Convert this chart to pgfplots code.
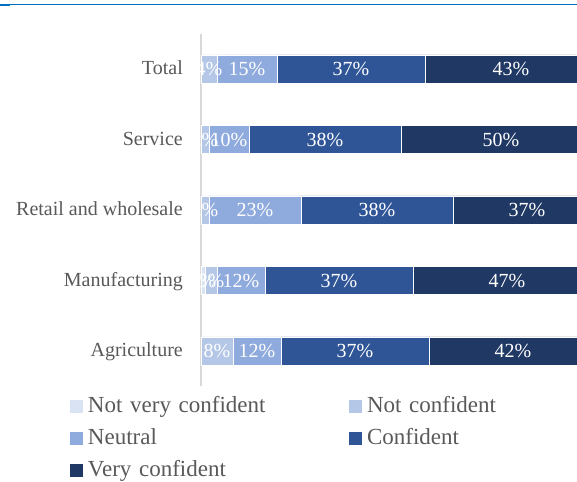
\documentclass[border=0pt]{standalone}
\usepackage{pgfplots}
\pgfplotsset{compat=1.18}
\usepackage{pgfplotstable}
\usepackage{fontspec}
\setmainfont{Liberation Serif}
\definecolor{c1}{HTML}{DAE3F3}
\definecolor{c2}{HTML}{B4C7E7}
\definecolor{c3}{HTML}{8FAADC}
\definecolor{c4}{HTML}{2F5597}
\definecolor{c5}{HTML}{203864}
\definecolor{topblue}{HTML}{0070C0}
\definecolor{axisgray}{HTML}{D9D9D9}
\definecolor{labelgray}{HTML}{595959}
% pos: 0 Agriculture, 1 Manufacturing, 2 Retail and wholesale, 3 Service, 4 Total
\pgfplotstableread{
pos nv nc ne co vc
0 0 8 12 37 42
1 1 3 12 37 47
2 0 2 23 38 37
3 0 2 10 38 50
4 0 4 15 37 43
}\datatable
\begin{document}
\begin{tikzpicture}
\useasboundingbox (0pt,0pt) rectangle (577pt,481pt);
\clip (0pt,0pt) rectangle (577pt,481pt);
\fill[white] (0pt,0pt) rectangle (577pt,481pt);
\draw[color=topblue, line width=1.3pt] (0pt,476.5pt) -- (577pt,476.5pt);
\draw[color=topblue, line width=2pt] (0pt,475.5pt) -- (10pt,475.5pt);
\begin{axis}[
  at={(201pt,94.75pt)}, anchor=south west,
  x=4pt, y=70.5pt,
  xmin=0, xmax=100, ymin=-0.5, ymax=4.5,
  xbar stacked, bar width=28pt,
  axis x line=none,
  axis y line*=left,
  y axis line style={color=axisgray, line width=1.5pt, -},
  ytick={0,1,2,3,4},
  yticklabels={Agriculture, Manufacturing, Retail and wholesale, Service, Total},
  major tick length=0pt,
  xtick=\empty,
  yticklabel style={font=\fontsize{20}{24}\selectfont, text=labelgray, inner sep=0pt, xshift=-18pt, text height=15pt, text depth=3pt},
  point meta=explicit symbolic,
  nodes near coords={\ifnum\pgfplotspointmeta>0 \pgfplotspointmeta\%\fi},
  every node near coord/.append style={anchor=center, text=white, font=\fontsize{20}{24}\selectfont, inner sep=0pt, text height=15pt, text depth=1pt},
  legend columns=2,
  legend cell align=left,
  legend image code/.code={\fill[#1, draw=none] (0pt,-6.5pt) rectangle (13pt,6.5pt);},
  legend style={at={(-0.3275,-0.0277)}, anchor=north west, draw=none, fill=none, inner sep=0pt, outer sep=0pt,
    font=\fontsize{23}{27}\selectfont, text=labelgray,
    nodes={inner sep=0pt, text width=254pt, text height=16pt, text depth=5pt},
    row sep=11pt,
    /tikz/every odd column/.append style={column sep=5pt},
    /tikz/every even column/.append style={column sep=7pt}},
  every axis plot/.append style={draw=white, line width=0.5pt},
]
\addplot[fill=c1] table[x=nv, y=pos, meta=nv] {\datatable};
\addplot[fill=c2] table[x=nc, y=pos, meta=nc] {\datatable};
\addplot[fill=c3] table[x=ne, y=pos, meta=ne] {\datatable};
\addplot[fill=c4] table[x=co, y=pos, meta=co] {\datatable};
\addplot[fill=c5] table[x=vc, y=pos, meta=vc] {\datatable};
\legend{Not very confident, Not confident, Neutral, Confident, Very confident}
\end{axis}
\end{tikzpicture}
\end{document}
